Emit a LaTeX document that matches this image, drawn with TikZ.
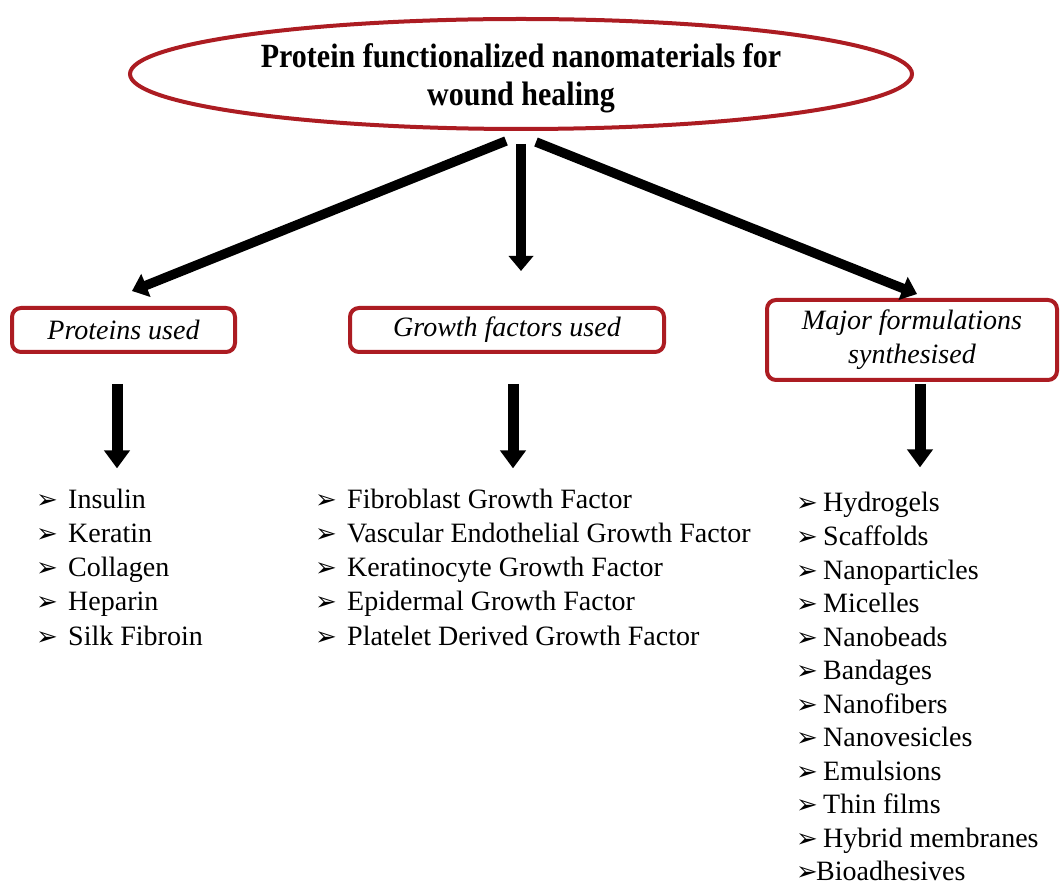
\documentclass[tikz,border=0pt]{standalone}
\usepackage{fontspec}
\usepackage{graphicx}
\setmainfont{Liberation Serif}
\newfontfamily\dingfont{DejaVu Sans}
\usetikzlibrary{arrows.meta,shapes.geometric,calc}
\definecolor{boxred}{RGB}{172,28,34}
\newcommand{\blt}{{\dingfont\fontsize{26}{26}\selectfont ➢}}
\begin{document}
\begin{tikzpicture}[x=1pt,y=-1pt,
  titleell/.style={ellipse,draw=boxred,line width=4pt,minimum width=782pt,minimum height=110pt,inner sep=0pt},
  catbox/.style={draw=boxred,line width=4pt,rounded corners=9pt,font=\fontsize{28}{34}\selectfont\itshape,align=center,inner sep=0pt},
  bigarrow/.style={line width=9.5pt,-{Triangle[width=24pt,length=15pt]}},
  downarrow/.style={line width=11pt,-{Triangle[width=25pt,length=18pt]}},
  listitem/.style={anchor=base west,inner sep=0pt,font=\fontsize{28}{34}\selectfont}
]
\useasboundingbox (0,0) rectangle (1061,890);
\fill[white] (0,0) rectangle (1061,890);

\node[titleell,font=\fontsize{30}{33}\selectfont\bfseries] (title) at (521,74)
  {\raisebox{-5pt}[\height][\depth]{\scalebox{1}[1.13]{\begin{tabular}{@{}c@{}}Protein functionalized nanomaterials for\\wound healing\end{tabular}}}};

\node[catbox,minimum width=223pt,minimum height=44pt] (p) at (123.5,330) {Proteins used};
\node[catbox,minimum width=314pt,minimum height=44pt] (g) at (507,330) {Growth factors used};
\node[catbox,minimum width=290pt,minimum height=80pt] (m) at (912,340) {Major formulations\\synthesised};

\coordinate (s1) at (506,141);
\coordinate (s2) at (521,144);
\coordinate (s3) at (536,142);
\coordinate (e1) at (132,291);
\coordinate (e2) at (521,271);
\coordinate (e3) at (917,294);
\draw[bigarrow] (s1) -- (e1);
\draw[bigarrow] (s2) -- (e2);
\draw[bigarrow] (s3) -- (e3);

% lists
\foreach \t [count=\i from 0] in {Insulin,Keratin,Collagen,Heparin,Silk Fibroin}
  \node[listitem] (pl\i) at (36,{508+\i*34.3}) {\makebox[32pt][l]{\blt}\t};
\foreach \t [count=\i from 0] in {Fibroblast Growth Factor,Vascular Endothelial Growth Factor,Keratinocyte Growth Factor,Epidermal Growth Factor,Platelet Derived Growth Factor}
  \node[listitem] (gl\i) at (315,{508+\i*34.3}) {\makebox[32pt][l]{\blt}\t};
\foreach \t [count=\i from 0] in {Hydrogels,Scaffolds,Nanoparticles,Micelles,Nanobeads,Bandages,Nanofibers,Nanovesicles,Emulsions,Thin films,Hybrid membranes}
  \node[listitem] (ml\i) at (796,{512+\i*33.5}) {\makebox[27pt][l]{\blt}\t};
\node[listitem] (ml11) at (796,{512+11*33.5}) {\makebox[20pt][l]{\blt}Bioadhesives};

\coordinate (d1s) at (117,384);
\coordinate (d2s) at (513,384);
\coordinate (d3s) at (920,384);
\draw[downarrow] (d1s) -- ($(d1s |- pl0.north)+(0,-20)$);
\draw[downarrow] (d2s) -- ($(d2s |- gl0.north)+(0,-20)$);
\draw[downarrow] (d3s) -- ($(d3s |- ml0.north)+(0,-25)$);
\end{tikzpicture}
\end{document}
